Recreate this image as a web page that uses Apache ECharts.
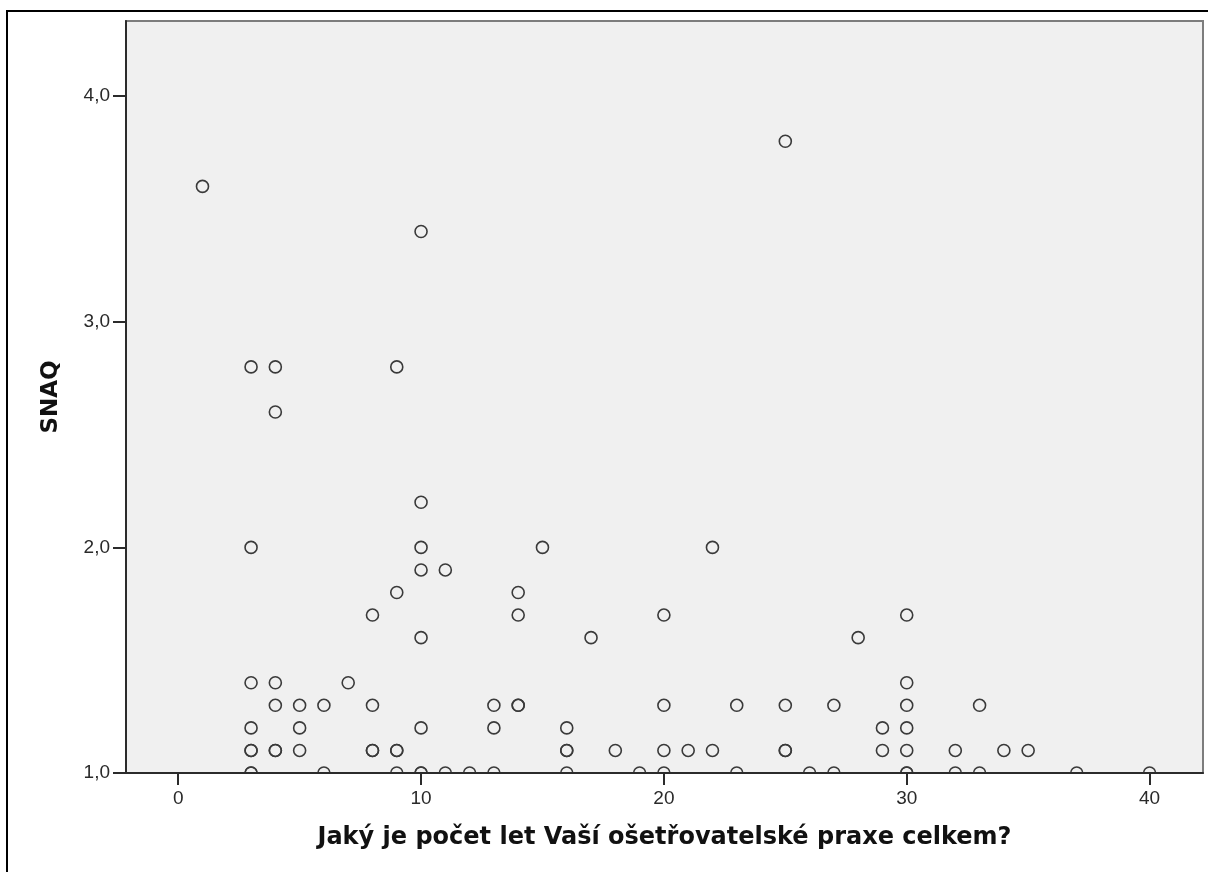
<!DOCTYPE html>
<html>
<head>
<meta charset="utf-8">
<title>SNAQ podle délky praxe</title>
<script src="https://cdn.jsdelivr.net/npm/echarts@6/dist/echarts.min.js"></script>
<style>
  html, body { margin: 0; padding: 0; background: #ffffff; }
  #chart { width: 1208px; height: 872px; }
</style>
</head>
<body>
<div id="chart"></div>
<script>
// Years of nursing practice (x) paired with SNAQ score (y), one entry per respondent
const yearsOfPractice = [
  1, 10, 25, 3, 4, 4, 9, 3, 10, 10, 10, 11, 15, 22, 9, 8, 14, 14, 10, 17, 20, 28, 30,
  3, 4, 7, 30,
  4, 5, 6, 8, 13, 14, 14, 20, 23, 25, 27, 30, 33,
  3, 5, 10, 13, 16, 29, 30,
  3, 3, 4, 4, 5, 8, 8, 9, 9, 16, 16, 18, 20, 21, 22, 25, 25, 29, 30, 32, 34, 35,
  3, 3, 6, 9, 10, 10, 11, 12, 13, 16, 19, 20, 23, 26, 27, 30, 30, 32, 33, 37, 40
];
const snaqScores = [
  3.6, 3.4, 3.8, 2.8, 2.8, 2.6, 2.8, 2.0, 2.2, 2.0, 1.9, 1.9, 2.0, 2.0, 1.8, 1.7, 1.8, 1.7, 1.6, 1.6, 1.7, 1.6, 1.7,
  1.4, 1.4, 1.4, 1.4,
  1.3, 1.3, 1.3, 1.3, 1.3, 1.3, 1.3, 1.3, 1.3, 1.3, 1.3, 1.3, 1.3,
  1.2, 1.2, 1.2, 1.2, 1.2, 1.2, 1.2,
  1.1, 1.1, 1.1, 1.1, 1.1, 1.1, 1.1, 1.1, 1.1, 1.1, 1.1, 1.1, 1.1, 1.1, 1.1, 1.1, 1.1, 1.1, 1.1, 1.1, 1.1, 1.1,
  1.0, 1.0, 1.0, 1.0, 1.0, 1.0, 1.0, 1.0, 1.0, 1.0, 1.0, 1.0, 1.0, 1.0, 1.0, 1.0, 1.0, 1.0, 1.0, 1.0, 1.0
];

// Tick labels on both axes
const xTicks = [0, 10, 20, 30, 40];
const yTicks = [1, 2, 3, 4];

const xTitle = 'Jaký je počet let Vaší ošetřovatelské praxe celkem?';
const yTitle = 'SNAQ';

const points = yearsOfPractice.map((x, i) => [x, snaqScores[i]]);

const chart = echarts.init(document.getElementById('chart'), null, { renderer: 'canvas' });

const labelFont = 'Liberation Sans, Arial, sans-serif';
const titleFont = 'DejaVu Sans, Verdana, sans-serif';

chart.setOption({
  animation: false,
  backgroundColor: '#ffffff',
  graphic: [{
    // outer frame around the whole figure
    type: 'rect',
    z: 100,
    silent: true,
    shape: { x: 7, y: 11, width: 1400, height: 1000 },
    style: { fill: 'none', stroke: '#000000', lineWidth: 2 }
  }],
  grid: {
    left: 126, right: 5, top: 21, bottom: 99,
    show: true,
    backgroundColor: '#f0f0f0',
    borderColor: '#7d7d7d',
    borderWidth: 2
  },
  xAxis: {
    type: 'value',
    min: -2.15,
    max: 42.2,
    z: 5,
    splitLine: { show: false },
    axisLine: { show: true, onZero: false, lineStyle: { color: '#2b2b2b', width: 2 } },
    axisTick: { show: true, length: 12, customValues: xTicks, lineStyle: { color: '#2b2b2b', width: 2 } },
    axisLabel: {
      customValues: xTicks,
      margin: 16,
      color: '#2a2a2a',
      fontFamily: labelFont,
      fontSize: 19
    },
    name: xTitle,
    nameLocation: 'middle',
    nameGap: 53,
    nameTextStyle: { color: '#111111', fontFamily: titleFont, fontWeight: 'bold', fontSize: 24 }
  },
  yAxis: {
    type: 'value',
    min: 1,
    max: 4.333,
    z: 5,
    splitLine: { show: false },
    axisLine: { show: true, onZero: false, lineStyle: { color: '#2b2b2b', width: 2 } },
    axisTick: { show: true, length: 13, customValues: yTicks, lineStyle: { color: '#2b2b2b', width: 2 } },
    axisLabel: {
      customValues: yTicks,
      margin: 16,
      color: '#2a2a2a',
      fontFamily: labelFont,
      fontSize: 19,
      formatter: v => v.toFixed(1).replace('.', ',')
    },
    name: yTitle,
    nameLocation: 'middle',
    nameRotate: 90,
    nameGap: 63,
    nameTextStyle: { color: '#111111', fontFamily: titleFont, fontWeight: 'bold', fontSize: 23 }
  },
  series: [{
    type: 'custom',
    clip: true,
    z: 2,
    data: points,
    renderItem: function (params, api) {
      const p = api.coord([api.value(0), api.value(1)]);
      return {
        type: 'circle',
        shape: { cx: p[0], cy: p[1], r: 6 },
        style: { fill: 'none', stroke: '#3a3a3a', lineWidth: 1.6 }
      };
    }
  }]
});
</script>
</body>
</html>
